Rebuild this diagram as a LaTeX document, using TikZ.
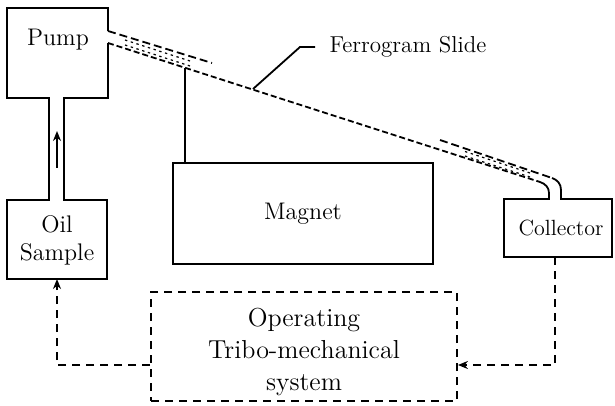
\documentclass[tikz,border=0pt]{standalone}
\usetikzlibrary{arrows.meta,calc,positioning}
\begin{document}
\begin{tikzpicture}[x=0.5pt,y=-0.5pt,line width=0.9pt,
every node/.style={font=\fontsize{12}{14}\selectfont, align=center},
slide/.style={dash pattern=on 3pt off 1.5pt},
tube/.style={dash pattern=on 4pt off 2pt},
inner/.style={line width=0.6pt, dash pattern=on 1.2pt off 1.8pt},
loopline/.style={dash pattern=on 4pt off 3pt},
tip/.style={-{Stealth[length=5pt,width=4pt]}}]
\useasboundingbox (0,0) rectangle (615,406);

\coordinate (pumpout) at (108,43);
\coordinate (slideend) at (540,182);
\coordinate (oilbot) at (57,279);
\coordinate (collbot) at (555,257);

% pump, neck and oil sample
\draw (108,31) -- (108,8) -- (7,8) -- (7,98) -- (49,98) -- (49,200) -- (7,200)
  -- (7,279) -- (107,279) -- (107,200) -- (64,200) -- (64,98) -- (108,98) -- (pumpout);
\node (pump) at (58,40) {Pump};
\node (oil) at (57,240) {Oil\\Sample};
\draw[tip] (57,168) -- (57,131);

% collector
\draw (slideend) to[out=-18,in=90] (549,193) -- (549,199) -- (504,199) -- (504,257)
  -- (612,257) -- (612,199) -- (561,199) -- (561,190) to[out=90,in=-18] (552,178);
\node[font=\fontsize{11}{13}\selectfont] (collector) at (561,228) {Collector};

% slide and tube
\draw[slide] (pumpout) -- (slideend);
\draw[tube] (108,31) -- (212,63);
\draw[tube] (440,140) -- (552,178);
\draw[inner] (125,40) -- (190,61);
\draw[inner] (125,45) -- (190,66);
\draw[inner] (465,151.5) -- (530,173);
\draw[inner] (465,156) -- (530,177);

% magnet
\node[draw, minimum width=130pt, minimum height=50.5pt, inner sep=0pt] (magnet) at (303,213.5) {Magnet};
\draw (magnet.north -| 185,0) -- (185,68);

\draw (253,89) -- (300,47) -- (315,47);
\node[anchor=west, font=\fontsize{11.5}{14}\selectfont] (label) at (322,47) {Ferrogram\ Slide};

% tribo-mechanical system
\node[draw, loopline, minimum width=153pt, minimum height=54.5pt] (tribo) at (304,346.5) {};
\node[font=\fontsize{13}{16}\selectfont, yshift=-2.5pt] (tribotext) at (tribo) {Operating\\Tribo-mechanical\\system};
\draw[loopline, tip] (tribo.west |- 0,365) -| (oilbot);
\draw[loopline, tip] (collbot) |- (tribo.east |- 0,365);
\end{tikzpicture}
\end{document}
